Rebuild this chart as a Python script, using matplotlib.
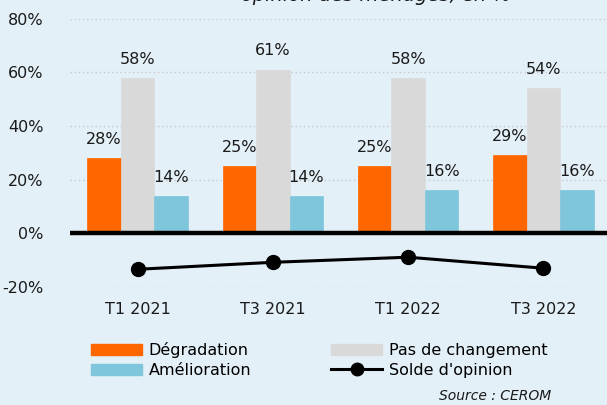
import matplotlib
matplotlib.use("Agg")
import matplotlib.pyplot as plt
import numpy as np
from matplotlib.lines import Line2D
from matplotlib.patches import Patch

categories = ["T1 2021", "T3 2021", "T1 2022", "T3 2022"]
degradation = [28, 25, 25, 29]
pas_changement = [58, 61, 58, 54]
amelioration = [14, 14, 16, 16]
solde = [-13.4, -10.8, -8.9, -13.0]
yticks = [-20, 0, 20, 40, 60, 80]

BG = "#E3F0F7"
C_ORANGE = "#FF6600"
C_GRAY = "#D9D9D9"
C_BLUE = "#7FC6DC"

plt.rcParams['font.family'] = ['DejaVu Sans']
FS = 11.5

fig = plt.figure(figsize=(6.07, 4.05), dpi=100, facecolor=BG)
ax = fig.add_axes([70/607, 1-287/405, 541/607, (287-18.6)/405])
ax.set_facecolor(BG)

x = np.arange(len(categories))
w = 0.248
series = [(degradation, C_ORANGE, -w), (pas_changement, C_GRAY, 0), (amelioration, C_BLUE, w)]
for vals, col, off in series:
    bars = ax.bar(x + off, vals, width=w, color=col, edgecolor=col, linewidth=0.5, zorder=2)
    for b, v in zip(bars, vals):
        ax.annotate(f"{v}%", (b.get_x() + b.get_width()/2, v), xytext=(0, 8),
                    textcoords="offset points", ha="center", va="bottom",
                    fontsize=FS, color="#1a1a1a")

ax.axhline(0, color="black", lw=3.2, zorder=3)
ax.plot(x, solde, color="black", lw=2.2, marker="o", markersize=10, zorder=4)

ax.set_xlim(-0.5, len(categories) - 0.5)
ax.set_ylim(-20, 80)
ax.set_yticks(yticks)
ax.set_yticklabels([f"{t}%" for t in yticks], fontsize=FS, color="#1a1a1a")
ax.set_xticks(x)
ax.set_xticklabels(categories, fontsize=FS, color="#1a1a1a")
ax.tick_params(axis="y", length=0, pad=19)
ax.tick_params(axis="x", length=0, pad=11)
ax.yaxis.grid(True, color="#C8C8C8", linestyle=(0, (1, 2)), lw=1, zorder=0)
ax.set_axisbelow(True)
for s in ax.spines.values():
    s.set_visible(False)

handles = [Patch(color=C_ORANGE), Patch(color=C_BLUE), Patch(color=C_GRAY),
           Line2D([], [], color="black", lw=2.2, marker="o", markersize=9)]
labels = ["Dégradation", "Amélioration", "Pas de changement", "Solde d'opinion"]
fig.legend(handles, labels, ncol=2, loc="upper left", bbox_to_anchor=(80/607, 1-331/405),
           frameon=False, fontsize=FS, handlelength=3.2, handleheight=0.7,
           handletextpad=0.4, columnspacing=5.0, labelspacing=0.3, borderpad=0.2)

fig.text(551/607, 1-396/405, "Source : CEROM", ha="right", va="center",
         fontsize=10, style="italic", color="#1a1a1a")
fig.text(376/607, 1-1/405, "opinion des ménages, en %", ha="center", va="baseline",
         fontsize=14, style="italic", color="#1a1a1a")

fig.savefig("out.png", dpi=100, facecolor=BG)
